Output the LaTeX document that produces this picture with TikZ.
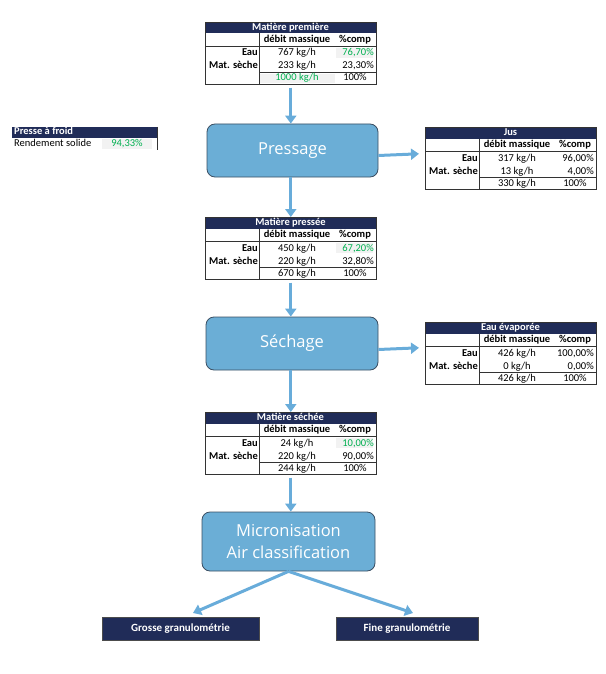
\documentclass[tikz,border=0pt]{standalone}
\usepackage{fontspec}
\setmainfont{Carlito}
\newfontfamily\boxfont{Open Sans}
\usetikzlibrary{arrows.meta,calc}
\definecolor{navy}{RGB}{32,44,88}
\definecolor{flow}{RGB}{104,172,218}
\definecolor{boxfill}{RGB}{107,174,214}
\definecolor{boxline}{RGB}{58,78,98}
\definecolor{okgreen}{RGB}{0,176,80}
\definecolor{cellgray}{RGB}{242,242,242}
\tikzset{
  tabfont/.style={font=\fontsize{10.5}{12}\selectfont},
  tabframe/.style={draw=black!80, line width=0.6pt, minimum width=171pt, minimum height=62pt, inner sep=0pt, anchor=north west},
  tabline/.style={draw=black!80, line width=0.6pt},
  tabtitle/.style={tabfont, font=\fontsize{10.5}{12}\selectfont\bfseries, text=white, inner sep=0pt, text height=7pt, text depth=2pt},
  tabhead/.style={tabfont, font=\fontsize{10.5}{12}\selectfont\bfseries, inner sep=0pt, text height=7pt, text depth=2pt},
  tablabel/.style={tabfont, font=\fontsize{10.5}{12}\selectfont\bfseries, inner sep=0pt, anchor=east, text height=7pt, text depth=2pt},
  tabcell/.style={tabfont, inner sep=0pt, text height=7pt, text depth=2pt},
  tabpct/.style={tabfont, inner sep=0pt, anchor=east, text height=7pt, text depth=2pt},
  procbox/.style={rounded corners=8pt, fill=boxfill, draw=boxline, line width=0.8pt, text=white, font=\boxfont\fontsize{16.5}{22}\selectfont, align=center, inner sep=0pt},
  outbox/.style={fill=navy, draw=black!70, line width=0.5pt, text=white, font=\fontsize{11}{13}\selectfont\bfseries, inner sep=0pt},
  flowarrow/.style={draw=flow, line width=3pt, -{Triangle[length=8pt,width=11pt]}}
}
\newcommand\mtable[9]{%
\begin{scope}[shift={(#2,#3)}]
  \fill[navy] (0,0) rectangle (171,11.5);
  \draw[tabline] (0,24.5) -- (171,24.5);
  \draw[tabline] (54,11.5) -- (54,62);
  \draw[tabline] (54,50.5) -- (171,50.5);
  \node[tabframe] (#1) at (0,0) {};
  \node[tabtitle] (#1-t) at (85.5,5.9) {#4};
  \node[tabhead] (#1-h1) at (92,18.2) {débit massique};
  \node[tabhead] (#1-h2) at (150,18.2) {\%comp};
  \node[tablabel] (#1-l1) at (53,31.5) {Eau};
  \node[tablabel] (#1-l2) at (53,44.5) {Mat. sèche};
  \node[tabcell] (#1-v1) at (92,31.5) {#5};
  \node[tabpct] (#1-p1) at (169,31.5) {#6};
  \node[tabcell] (#1-v2) at (92,44.5) {#7};
  \node[tabpct] (#1-p2) at (169,44.5) {#8};
  \node[tabcell] (#1-v3) at (92,56.5) {#9};
  \node[tabcell] (#1-p3) at (150,56.5) {100\%};
\end{scope}}
\begin{document}
\begin{tikzpicture}[x=1pt,y=-1pt]
\useasboundingbox (0,0) rectangle (605,674);
% highlighted cells
\begin{scope}[shift={(205,22)}]
  \fill[cellgray] (131,26) rectangle (168,36);
  \fill[cellgray] (55,52) rectangle (130,61);
\end{scope}
\begin{scope}[shift={(205,217)}]
  \fill[cellgray] (131,26) rectangle (168,36);
\end{scope}
\begin{scope}[shift={(205,412)}]
  \fill[cellgray] (131,26) rectangle (168,36);
\end{scope}
% tables
\mtable{mp}{205}{22}{Matière première}{767 kg/h}{\textcolor{okgreen}{76,70\%}}{233 kg/h}{23,30\%}{\textcolor{okgreen}{1000 kg/h}}
\mtable{jus}{425}{127}{Jus}{317 kg/h}{96,00\%}{13 kg/h}{4,00\%}{330 kg/h}
\mtable{mpr}{205}{217}{Matière pressée}{450 kg/h}{\textcolor{okgreen}{67,20\%}}{220 kg/h}{32,80\%}{670 kg/h}
\mtable{evap}{425}{322}{Eau évaporée}{426 kg/h}{100,00\%}{0 kg/h}{0,00\%}{426 kg/h}
\mtable{ms}{205}{412}{Matière séchée}{24 kg/h}{\textcolor{okgreen}{10,00\%}}{220 kg/h}{90,00\%}{244 kg/h}
% Presse a froid
\fill[navy] (12,127) rectangle (157,137.5);
\fill[cellgray] (102,139) rectangle (152,149);
\draw[tabline] (157,127) -- (157,150);
\node[tabtitle, anchor=west] (pf-t) at (14,132.3) {Presse à froid};
\node[tabcell, anchor=west] (pf-l) at (14,144) {Rendement solide};
\node[tabcell, text=okgreen] (pf-v) at (127,144) {94,33\%};
% process boxes
\node[procbox, minimum width=171pt, minimum height=53pt] (press) at (292.5,150.5) {Pressage};
\node[procbox, minimum width=172pt, minimum height=53pt] (sech) at (292,343.5) {Séchage};
\node[procbox, minimum width=173pt, minimum height=59pt] (micro) at (288.5,541.5) {Micronisation\\Air classification};
% outputs
\node[outbox, minimum width=157pt, minimum height=23pt] (gros) at (180.5,628.5) {Grosse granulométrie};
\node[outbox, minimum width=142pt, minimum height=23pt] (fine) at (407,628.5) {Fine granulométrie};
\coordinate (gtip) at (193,613);
\coordinate (ftip) at (413,613);
% arrows
\draw[flowarrow, shorten <=3pt] (mp.south) -- (mp.south |- press.north);
\draw[flowarrow] (mp.south |- press.south) -- (mp.south |- mpr.north);
\draw[flowarrow, shorten <=3pt] (mpr.south) -- (mpr.south |- sech.north);
\draw[flowarrow] (mpr.south |- sech.south) -- (mpr.south |- ms.north);
\draw[flowarrow, shorten <=3pt] (ms.south) -- (ms.south |- micro.north);
\draw[flowarrow] ([yshift=-5pt]press.east) -- ([xshift=-6pt,yshift=4.5pt]jus.west);
\draw[flowarrow] ([yshift=-6pt]sech.east) -- ([xshift=-6pt,yshift=5.5pt]evap.west);
\draw[flowarrow] (micro.south) -- (gtip);
\draw[flowarrow] (micro.south) -- (ftip);
\end{tikzpicture}
\end{document}
